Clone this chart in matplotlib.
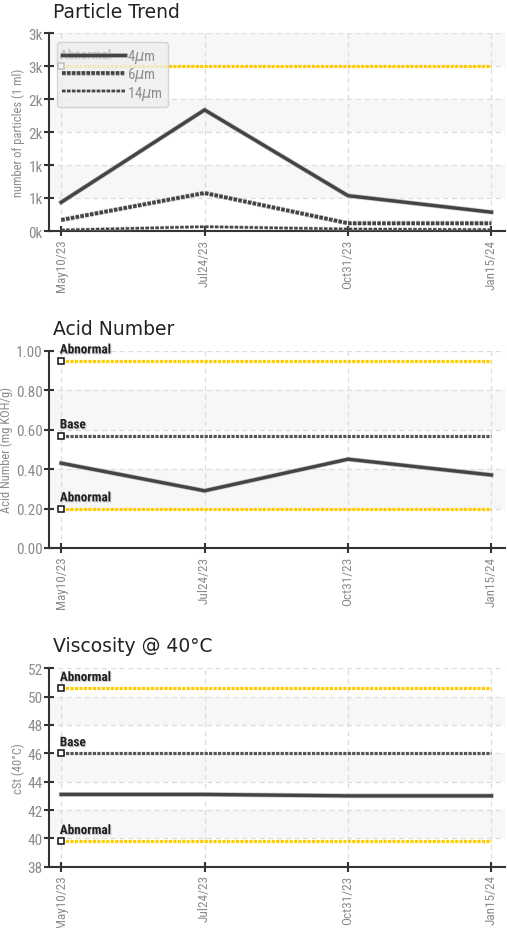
import numpy as np
import matplotlib
matplotlib.use("Agg")
import matplotlib.pyplot as plt
import matplotlib.patheffects as pe
from matplotlib.ticker import FuncFormatter, MultipleLocator
from matplotlib import font_manager

dates = ["May10/23", "Jul24/23", "Oct31/23", "Jan15/24"]

# particle counts per ml
p4 = [435, 1835, 535, 285]
p6 = [167, 576, 117, 117]
p14 = [15, 65, 30, 20]
p_abnormal = 2500

acid = [0.43, 0.29, 0.45, 0.37]
acid_abn_hi = 0.95
acid_base = 0.57
acid_abn_lo = 0.20

visc = [43.1, 43.1, 43.0, 43.0]
visc_abn_hi = 50.6
visc_base = 46.0
visc_abn_lo = 39.8

names = set(f.name for f in font_manager.fontManager.ttflist)
narrow = "DejaVu Sans"
for cand in ["Roboto Condensed", "Barlow Semi Condensed", "PT Sans Narrow"]:
    if cand in names:
        narrow = cand
        break

DARK = "#444444"
YEL = "#ffcc00"
GRAY = "#8c8c8c"

fig = plt.figure(figsize=(5.07, 9.29), dpi=100)
W, H = 507, 929


def make_ax(top, bottom):
    return fig.add_axes([49 / W, 1 - bottom / H, 456 / W, (bottom - top) / H])


def style(ax, lo, hi, step, fmt, ylabel, title, ttl_y):
    ax.set_xlim(-0.085, 3.095)
    ax.set_ylim(lo, hi)
    ax.yaxis.set_major_locator(MultipleLocator(step))
    ax.yaxis.set_major_formatter(FuncFormatter(fmt))
    ticks = np.arange(lo, hi + step / 2, step)
    for i in range(len(ticks) - 1):
        if i % 2 == 1:
            ax.axhspan(ticks[i], ticks[i + 1], color="#f7f7f7", zorder=0, lw=0)
    ax.set_xticks(range(len(dates)))
    ax.set_xticklabels(dates, rotation=90, fontfamily=narrow, fontsize=9.5, color=GRAY)
    for lab in ax.get_yticklabels():
        lab.set_fontfamily(narrow)
    ax.tick_params(axis="y", labelsize=11, labelcolor=GRAY, direction="inout",
                   length=7, width=1.5, color="#333333", pad=1)
    ax.tick_params(axis="x", direction="inout", length=7, width=1.5,
                   color="#333333", pad=2)
    ax.grid(True, color="#dddddd", linestyle=(0, (4, 3)), lw=0.9, zorder=1)
    ax.set_axisbelow(True)
    for s in ["top", "right"]:
        ax.spines[s].set_visible(False)
    for s in ["left", "bottom"]:
        ax.spines[s].set_color("#333333")
        ax.spines[s].set_linewidth(1.5)
    ax.set_ylabel(ylabel, fontfamily=narrow, fontsize=9, color=GRAY, labelpad=2)
    fig.text(53 / W, 1 - ttl_y / H, title, fontsize=13.5, color="#222222",
             va="center", ha="left")


def ref_line(ax, y, color, label, lw=2.3):
    x = np.arange(len(dates))
    ax.plot(x, [y] * len(dates), color=color, lw=lw, linestyle=(0, (1, 0.4)),
            zorder=3, dash_capstyle="butt")
    ax.plot([0], [y], marker="s", ms=5, mfc="white", mec="#111111", mew=1.1,
            zorder=4, clip_on=False)
    ax.annotate(label, (0, y), xytext=(-1, 3), textcoords="offset points",
                fontsize=9.5, fontfamily=narrow, color="#222222", fontweight="bold",
                ha="left", va="bottom", zorder=4,
                path_effects=[pe.withSimplePatchShadow(offset=(0.8, -0.8),
                                                       shadow_rgbFace="#aaaaaa", alpha=0.6)])


def series(ax, y, lw, ls, label=None):
    x = np.arange(len(dates))
    ax.plot(x, y, color=DARK, lw=lw, linestyle=ls, zorder=5, label=label,
            solid_joinstyle="miter",
            path_effects=[pe.Stroke(linewidth=lw + 1.0, foreground="#9a9a9a", alpha=0.6),
                          pe.Normal()])


# Particle Trend
ax1 = make_ax(34, 232)
style(ax1, 0, 3000, 500, lambda v, p: f"{int(np.floor(v / 1000 + 0.5))}k",
      "number of particles (1 ml)", "Particle Trend", 13)
ref_line(ax1, p_abnormal, YEL, "Abnormal")
series(ax1, p4, 2.4, "-", "4$\\mu$m")
series(ax1, p6, 2.6, (0, (1, 0.35)), "6$\\mu$m")
series(ax1, p14, 1.7, (0, (1.5, 0.6)), "14$\\mu$m")
leg = ax1.legend(loc="upper left", bbox_to_anchor=(0.017, 0.955), handlelength=4.3,
                 handletextpad=0.15, labelspacing=0.02, borderpad=0.35,
                 borderaxespad=0, prop={"family": narrow, "size": 10.5}, fancybox=True,
                 framealpha=0.8, facecolor="#eeeeee", edgecolor="#cccccc")
for t in leg.get_texts():
    t.set_color(GRAY)
leg.set_zorder(10)

# Acid Number
ax2 = make_ax(351.7, 549)
style(ax2, 0, 1.0, 0.2, lambda v, p: f"{v:.2f}",
      "Acid Number (mg KOH/g)", "Acid Number", 330)
ref_line(ax2, acid_abn_hi, YEL, "Abnormal")
ref_line(ax2, acid_base, "#555555", "Base")
ref_line(ax2, acid_abn_lo, YEL, "Abnormal")
series(ax2, acid, 2.4, "-")

# Viscosity
ax3 = make_ax(669.3, 867.7)
style(ax3, 38, 52, 2, lambda v, p: f"{v:.0f}",
      "cSt (40°C)", "Viscosity @ 40°C", 647)
ref_line(ax3, visc_abn_hi, YEL, "Abnormal")
ref_line(ax3, visc_base, "#555555", "Base")
ref_line(ax3, visc_abn_lo, YEL, "Abnormal")
series(ax3, visc, 2.4, "-")

fig.savefig("out.png", dpi=100)
